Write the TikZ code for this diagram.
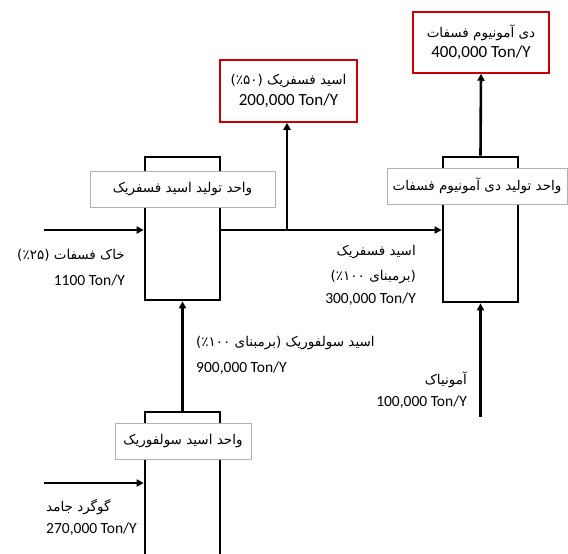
\documentclass[tikz,border=0pt]{standalone}
\usepackage{fontspec}
\setmainfont{Carlito}
\newfontfamily\fa[Script=Arabic]{DejaVu Sans}
\TeXXeTstate=1
\usetikzlibrary{arrows.meta}
\newcommand\fatxt[1]{{\fa\fontsize{13.5}{16}\selectfont\beginR #1\endR}}
\tikzset{
  col/.style={draw, line width=2.6pt, minimum width=75pt, inner sep=0pt},
  lab/.style={draw=black!30, line width=0.8pt, fill=white, inner sep=0pt},
  red/.style={draw=red!80!black, line width=1.5pt, fill=white, inner sep=0pt, align=center},
  flow/.style={line width=2.6pt},
  arr/.style={line width=2.6pt, -{Triangle[length=7pt,width=7pt]}},
  txt/.style={inner sep=0pt, font=\fontsize{15.5}{21}\selectfont},
}
\begin{document}
\begin{tikzpicture}[x=1pt,y=-1pt]
\useasboundingbox (0,0) rectangle (568,554);
\clip (0,0) rectangle (568,554);
\fill[white] (0,0) rectangle (568,554);
% columns
\node[col, minimum height=143pt] (box1) at (182.5,228.5) {};
\node[col, minimum height=145pt] (box2) at (480.5,229.5) {};
\node[col, minimum height=188pt] (box3) at (182.5,506) {};
% labels of units
\node[lab, minimum width=185pt, minimum height=36pt] (lab1) at (182.5,189) {\fatxt{واحد تولید اسید فسفریک}};
\node[lab, minimum width=180pt, minimum height=36pt] (lab2) at (477,186) {\fatxt{واحد تولید دی آمونیوم فسفات}};
\node[lab, minimum width=136pt, minimum height=36pt] (lab3) at (183,441) {\fatxt{واحد اسید سولفوریک}};
% product boxes
\node[red, minimum width=137pt, minimum height=62pt] (red1) at (288.5,91)
  {\fatxt{اسید فسفریک (٪۵۰)}\\[4pt]{\fontsize{17}{20}\selectfont 200,000 Ton/Y}};
\node[red, minimum width=136pt, minimum height=61pt] (red2) at (481,42.5)
  {\fatxt{دی آمونیوم فسفات}\\[4pt]{\fontsize{17}{20}\selectfont 400,000 Ton/Y}};
% coordinates
\coordinate (feed1) at (44,230);
\coordinate (j) at (287,230);
\coordinate (feed3) at (44,483);
\coordinate (nh3) at (480.5,417);
% connectors
\draw[arr] (feed1) -- (feed1 -| box1.west);
\draw[flow] (box1.east |- j) -- (j);
\draw[arr] (j) -- (j -| box2.west);
\draw[arr] (j) -- (j |- red1.south);
\draw[arr] (box2.north) -- (red2.south);
\draw[arr] (box3.north) -- (box1.south);
\draw[arr] (nh3) -- (box2.south);
\draw[arr] (feed3) -- (feed3 -| box3.west);
% stream texts
\node[txt, anchor=east] (t1a) at (125,255) {\fatxt{خاک فسفات (٪۲۵)}};
\node[txt, anchor=east] (t1b) at (125,280) {1100 Ton/Y};
\node[txt, anchor=east] (t2a) at (416,252) {\fatxt{اسید فسفریک}};
\node[txt, anchor=east] (t2b) at (416,277) {\fatxt{(برمبنای ٪۱۰۰)}};
\node[txt, anchor=east] (t2c) at (416,299) {300,000 Ton/Y};
\node[txt, anchor=west] (t3a) at (196,343) {\fatxt{اسید سولفوریک (برمبنای ٪۱۰۰)}};
\node[txt, anchor=west] (t3b) at (196,368) {900,000 Ton/Y};
\node[txt, anchor=east] (t4a) at (467,380) {\fatxt{آمونیاک}};
\node[txt, anchor=east] (t4b) at (467,402) {100,000 Ton/Y};
\node[txt, anchor=west] (t5a) at (46,507) {\fatxt{گوگرد جامد}};
\node[txt, anchor=west] (t5b) at (46,529) {270,000 Ton/Y};
\end{tikzpicture}
\end{document}
